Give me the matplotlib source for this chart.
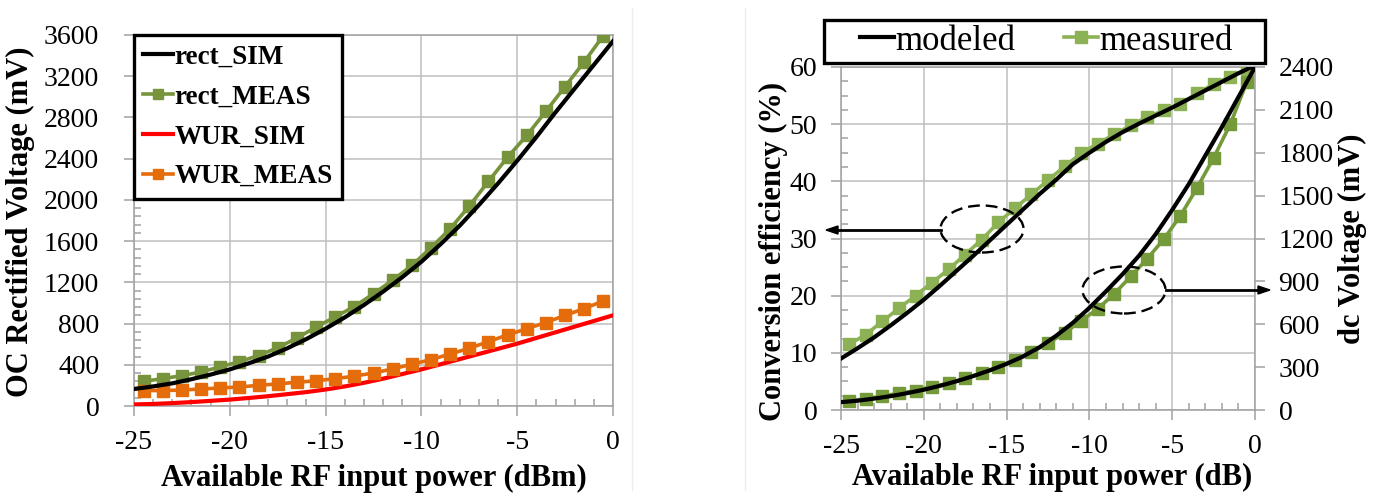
import numpy as np
import matplotlib.pyplot as plt
from matplotlib.patches import Ellipse, Rectangle
from matplotlib.ticker import MultipleLocator

plt.rcParams['font.family'] = ['Liberation Serif', 'DejaVu Serif']
plt.rcParams['axes.unicode_minus'] = False

# ---- data: left panel (OC rectified voltage, mV)
p_meas = [-24.5, -23.5, -22.5, -21.5, -20.5, -19.5, -18.5, -17.5, -16.5, -15.5,
          -14.5, -13.5, -12.5, -11.5, -10.5, -9.5, -8.5, -7.5, -6.5, -5.5,
          -4.5, -3.5, -2.5, -1.5, -0.5]
p_sim = [-25, -24, -23, -22, -21, -20, -19, -18, -17, -16, -15, -14, -13,
         -12, -11, -10, -9, -8, -7, -6, -5, -4, -3, -2, -1, 0]

rect_sim = [165, 190, 220, 260, 305, 355, 415, 480, 560, 650, 750, 860, 980,
            1110, 1250, 1400, 1570, 1750, 1950, 2160, 2380, 2610, 2850, 3080,
            3310, 3540]
rect_meas = [240, 265, 295, 330, 380, 430, 490, 565, 660, 765, 865, 965, 1090,
             1220, 1365, 1535, 1720, 1940, 2180, 2415, 2625, 2860, 3100, 3340,
             3595]
wur_sim = [15, 20, 28, 38, 50, 62, 78, 95, 115, 135, 160, 190, 225, 265, 310,
           355, 405, 455, 505, 555, 605, 660, 715, 770, 825, 880]
wur_meas = [150, 150, 155, 165, 175, 185, 200, 215, 230, 245, 265, 290, 320,
            360, 405, 450, 505, 560, 625, 690, 750, 810, 880, 945, 1020]

# ---- data: right panel (efficiency %, dc voltage mV)
eff_model = [9.0, 10.8, 12.7, 14.8, 17.0, 19.3, 21.8, 24.4, 27.0, 29.7, 32.4,
             35.1, 37.8, 40.3, 43.0, 45.0, 46.9, 48.6, 50.1, 51.5, 52.9, 54.4,
             55.9, 57.4, 58.9, 60.3]
eff_meas = [11.5, 13.2, 15.5, 17.8, 20.0, 22.3, 24.6, 27.2, 29.8, 32.8, 35.3,
            37.7, 40.2, 42.6, 44.9, 46.6, 48.2, 49.8, 51.3, 52.4, 53.5, 55.4,
            57.0, 58.3, 59.6]
v_model = [55, 65, 80, 97, 118, 142, 170, 202, 238, 278, 323, 375, 440, 520,
           610, 715, 830, 950, 1080, 1230, 1400, 1580, 1780, 1980, 2190, 2400]
v_meas = [63, 79, 98, 117, 136, 164, 187, 222, 257, 304, 351, 404, 467, 538,
          624, 708, 813, 935, 1059, 1197, 1360, 1554, 1764, 1998, 2293]

W, H = 1382, 495
fig = plt.figure(figsize=(W / 100, H / 100), dpi=100)

grid_c = '#bfbfbf'
axis_c = '#a0a0a0'
tick_fs = 20
lab_fs = 22
ms = 8.5


def style(ax):
    ax.grid(True, which='major', color=grid_c, lw=1.1)
    ax.set_axisbelow(True)
    for s in ax.spines.values():
        s.set_color(axis_c)
        s.set_linewidth(1.1)
    ax.tick_params(which='major', direction='out', length=7, width=1.1,
                   color=axis_c, labelsize=tick_fs)
    ax.tick_params(which='minor', direction='in', length=5, width=1.1,
                   color=axis_c)
    ax.tick_params(axis='x', which='major', pad=10)


# left panel
ax1 = fig.add_axes([134 / W, 1 - 406 / H, 479 / W, 371 / H])
style(ax1)
ax1.plot(p_sim, rect_sim, color='black', lw=3, label='rect_SIM', zorder=4)
ax1.plot(p_meas, rect_meas, color='#77933c', lw=2.6, marker='s', ms=ms,
         label='rect_MEAS', zorder=3)
ax1.plot(p_sim, wur_sim, color='#ff0000', lw=3, label='WUR_SIM', zorder=3)
ax1.plot(p_meas, wur_meas, color='#e46c0a', lw=2.6, marker='s', ms=ms,
         label='WUR_MEAS', zorder=3)
ax1.set_xlim(-25, 0)
ax1.set_ylim(0, 3600)
ax1.xaxis.set_major_locator(MultipleLocator(5))
ax1.xaxis.set_minor_locator(MultipleLocator(1))
ax1.yaxis.set_major_locator(MultipleLocator(400))
ax1.yaxis.set_minor_locator(MultipleLocator(80))
ax1.tick_params(axis='y', which='major', pad=18)
leg1 = ax1.legend(loc='upper left', bbox_to_anchor=(0, 1), borderaxespad=0,
                  prop={'size': 19.5, 'weight': 'bold'}, handlelength=1.1,
                  handletextpad=0.05, labelspacing=0.55, borderpad=0.35,
                  fancybox=False, framealpha=1, edgecolor='black',
                  markerscale=0.9)
leg1.get_frame().set_linewidth(2.4)
fig.text(20 / W, 1 - 222 / H, 'OC Rectified Voltage (mV)', rotation=90,
         ha='center', va='center', fontsize=lab_fs, fontweight='bold')
fig.text(374 / W, 1 - 478 / H, 'Available RF input power (dBm)',
         ha='center', va='center', fontsize=lab_fs, fontweight='bold')

# right panel
ax2 = fig.add_axes([841 / W, 1 - 410 / H, 414 / W, 343 / H])
style(ax2)
ax2.set_xlim(-25, 0)
ax2.set_ylim(0, 60)
ax2.xaxis.set_major_locator(MultipleLocator(5))
ax2.xaxis.set_minor_locator(MultipleLocator(1))
ax2.yaxis.set_major_locator(MultipleLocator(10))
ax2.yaxis.set_minor_locator(MultipleLocator(2.5))
ax2.tick_params(axis='y', which='major', pad=10)
ax3 = ax2.twinx()
ax3.set_ylim(0, 2400)
ax3.yaxis.set_major_locator(MultipleLocator(300))
for s in ax3.spines.values():
    s.set_visible(False)
ax3.tick_params(axis='y', direction='out', length=7, width=1.1, color=axis_c,
                labelsize=tick_fs, pad=10)

ax3.plot(p_meas, v_meas, color='#749a3a', lw=2.6, marker='s', ms=ms, zorder=3)
ax3.plot(p_sim, v_model, color='black', lw=3, zorder=4)
ax3.plot(p_meas, eff_meas, color='#8db255', lw=2.6, marker='s', ms=ms,
         zorder=3, transform=ax2.transData)
ax3.plot(p_sim, eff_model, color='black', lw=3, zorder=4,
         transform=ax2.transData)


# ellipses and arrows (figure pixels)
def fx(x):
    return x / W


def fy(y):
    return 1 - y / H


for cx, cy in [(982, 229), (1124, 290)]:
    fig.add_artist(Ellipse((fx(cx), fy(cy)), 83 / W, 47 / H, fill=False,
                           ls=(0, (5, 2.5)), lw=1.7, ec='black',
                           transform=fig.transFigure, zorder=10))
fig.add_artist(plt.Line2D([fx(941), fx(836)], [fy(230), fy(230)],
                          color='black', lw=2))
fig.patches.append(plt.Polygon([[fx(826), fy(230)], [fx(838), fy(226)],
                                [fx(838), fy(234)]], closed=True,
                               color='black', transform=fig.transFigure))
fig.add_artist(plt.Line2D([fx(1166), fx(1260)], [fy(290), fy(290)],
                          color='black', lw=2))
fig.patches.append(plt.Polygon([[fx(1270), fy(290)], [fx(1258), fy(286)],
                                [fx(1258), fy(294)]], closed=True,
                               color='black', transform=fig.transFigure))

# legend of right panel
fig.add_artist(Rectangle((fx(824), fy(63)), 441 / W, 43 / H, fill=False,
                         ec='black', lw=2.4, transform=fig.transFigure))
h1 = plt.Line2D([], [], color='black', lw=3)
h2 = plt.Line2D([], [], color='#8db255', lw=2.6, marker='s', ms=ms)
fig.legend([h1, h2], ['modeled', 'measured'], loc='center',
           bbox_to_anchor=(fx(1046), fy(41)), ncol=2, frameon=False,
           fontsize=25, handlelength=1.0, handletextpad=0.02,
           columnspacing=1.4, borderpad=0)

fig.text(fx(773), fy(251), 'Conversion efficiency (%)', rotation=90,
         ha='center', va='center', fontsize=lab_fs, fontweight='bold')
fig.text(fx(1352), fy(239), 'dc Voltage (mV)', rotation=90,
         ha='center', va='center', fontsize=lab_fs, fontweight='bold')
fig.text(fx(1052), fy(477), 'Available RF input power (dB)',
         ha='center', va='center', fontsize=lab_fs, fontweight='bold')

# faint separators
fig.add_artist(plt.Line2D([fx(632), fx(632)], [fy(8), fy(490)],
                          color='#ececec', lw=1))
fig.add_artist(plt.Line2D([fx(745), fx(745)], [fy(8), fy(490)],
                          color='#ececec', lw=1))

fig.savefig('out.png', dpi=100)
